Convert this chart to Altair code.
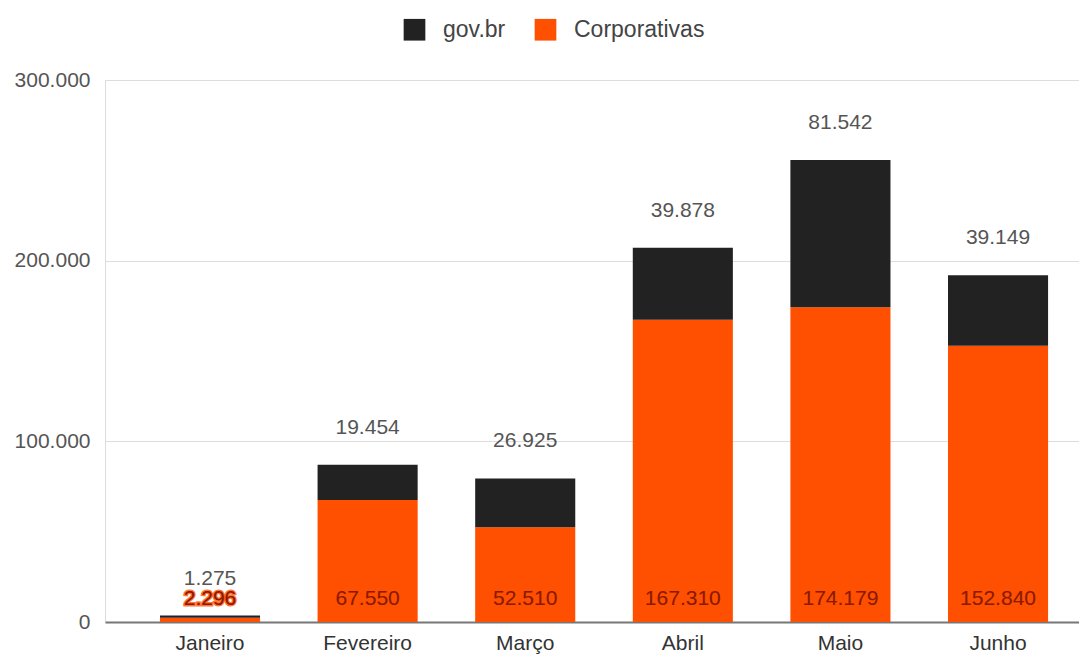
import altair as alt
import pandas as pd

months = ["Janeiro", "Fevereiro", "Março", "Abril", "Maio", "Junho"]
gov = [1275, 19454, 26925, 39878, 81542, 39149]
corp = [2296, 67550, 52510, 167310, 174179, 152840]
series = ["gov.br", "Corporativas"]
colors = ["#222222", "#FF4F00"]


def fmt(v):
    return f"{v:,}".replace(",", ".")


rows = []
for m, g, c in zip(months, gov, corp):
    rows.append({"month": m, "series": "Corporativas", "value": c, "ord": 0})
    rows.append({"month": m, "series": "gov.br", "value": g, "ord": 1})
df = pd.DataFrame(rows)

top_df = pd.DataFrame({
    "month": months,
    "total": [g + c for g, c in zip(gov, corp)],
    "label": [fmt(g) for g in gov],
})
corp_df = pd.DataFrame({
    "month": months,
    "zero": [0] * len(months),
    "label": [fmt(c) for c in corp],
})

FONT = "Liberation Sans"

xscale = alt.Scale(paddingInner=0.365, paddingOuter=0.2725, align=0.64)
yscale = alt.Scale(domain=[0, 300000])

xenc = alt.X(
    "month:N", sort=months, scale=xscale, title=None,
    axis=alt.Axis(labelAngle=0, labelFontSize=21, labelColor="#333333",
                  labelFont=FONT, ticks=False, domainColor="#777777",
                  domainWidth=2, labelPadding=10, grid=False),
)

bars = alt.Chart(df).mark_bar().encode(
    x=xenc,
    y=alt.Y("value:Q", stack="zero", scale=yscale, title=None,
            axis=alt.Axis(values=[0, 100000, 200000, 300000],
                          labelExpr="replace(format(datum.value, ','), ',', '.')",
                          labelFontSize=21, labelColor="#555555", labelFont=FONT,
                          ticks=False, domain=False, labelPadding=15,
                          gridColor="#dddddd", gridWidth=1)),
    color=alt.Color("series:N",
                    scale=alt.Scale(domain=series, range=colors),
                    legend=alt.Legend(title=None, orient="none", direction="horizontal",
                                      legendX=298, legendY=-62,
                                      symbolType="square", symbolSize=470,
                                      symbolStrokeWidth=0,
                                      labelFontSize=23, labelColor="#444444",
                                      labelFont=FONT, labelOffset=17,
                                      columnPadding=28)),
    order=alt.Order("ord:Q"),
)

top_text = alt.Chart(top_df).mark_text(
    dy=-37, fontSize=21, color="#555555", font=FONT
).encode(
    x=alt.X("month:N", sort=months, scale=xscale),
    y=alt.Y("total:Q", scale=yscale),
    text="label:N",
)

corp_halo = alt.Chart(corp_df).mark_text(
    dy=-23, fontSize=21, color="#8a1a00", font=FONT,
    stroke="#FF4F00", strokeWidth=3, strokeOpacity=0.8
).encode(
    x=alt.X("month:N", sort=months, scale=xscale),
    y=alt.Y("zero:Q", scale=yscale),
    text="label:N",
)
corp_text = alt.Chart(corp_df).mark_text(
    dy=-23, fontSize=21, color="#8a1a00", font=FONT
).encode(
    x=alt.X("month:N", sort=months, scale=xscale),
    y=alt.Y("zero:Q", scale=yscale),
    text="label:N",
)

chart = alt.layer(bars, top_text, corp_halo, corp_text).properties(
    width=974, height=542,
    padding={"left": 97, "top": 72, "right": 0, "bottom": 33},
    autosize=alt.AutoSizeParams(type="none"),
).configure_view(stroke=None).configure(background="white")

chart.save("out.html", embed_options={"renderer": "svg", "actions": False})
